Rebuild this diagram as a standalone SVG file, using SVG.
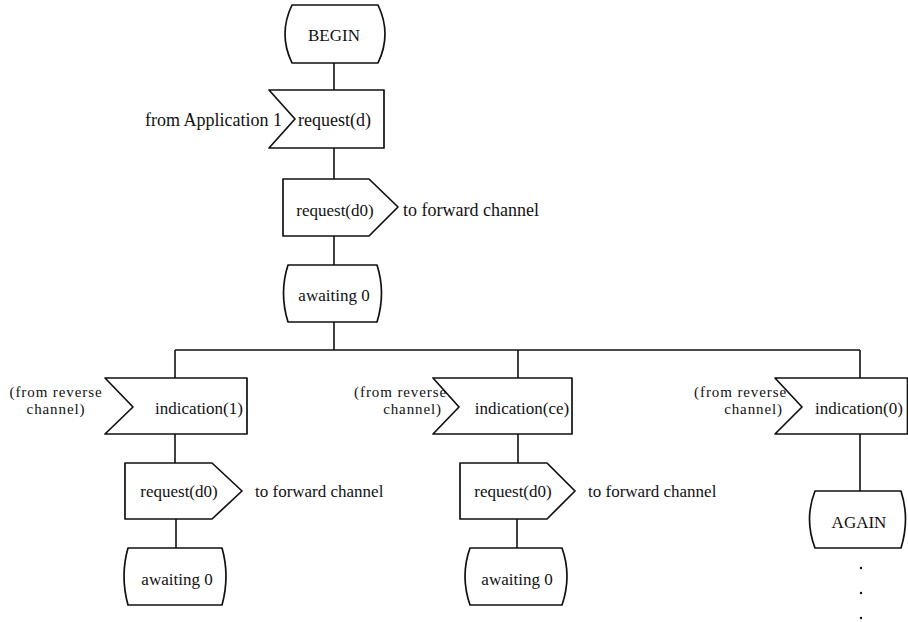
<svg xmlns="http://www.w3.org/2000/svg" width="908" height="622" viewBox="0 0 908 622">
<style>
.s{fill:#fff;stroke:#111;stroke-width:1.7;stroke-linejoin:round}
.c{fill:none;stroke:#111;stroke-width:1.6}
text{font-family:"Liberation Serif","Times New Roman",serif;font-size:17px;fill:#111}
.m{text-anchor:middle}
.e{text-anchor:end}
.big{font-size:18px}
.lb{font-size:15px;letter-spacing:0.9px}
</style>
<rect width="908" height="622" fill="#fff"/>
<g id="connectors">
<path class="c" d="M334 63V90M334 148V179M334 236V265M334 322V350M175 350H860M175 350V378M518 350V378M860 350V378M175 434V463M176 519V548M518 434V463M517 519V548M860 434V491"/>
</g>
<g id="begin">
<path class="s" d="M292 5H378Q392 34 378 63H292Q278 34 292 5Z"/>
<text class="m" x="334" y="41">BEGIN</text>
</g>
<g id="request_d">
<polygon class="s" points="269,90 384,90 384,148 269,148 295,119"/>
<text class="big" x="298" y="126">request(d)</text>
<text class="e big" x="282" y="126">from Application 1</text>
</g>
<g id="request_d0_top">
<polygon class="s" points="283,179 369,179 398,207 369,236 283,236"/>
<text class="m" x="335" y="216">request(d0)</text>
<text class="big" x="403" y="216">to forward channel</text>
</g>
<g id="awaiting_top">
<path class="s" d="M288 265H377Q386 293 377 322H288Q279 293 288 265Z"/>
<text class="m" x="334" y="301">awaiting 0</text>
</g>
<g id="indication_1">
<polygon class="s" points="105,378 247,378 247,434 105,434 133,407"/>
<text class="m" x="199" y="414">indication(1)</text>
<text class="m lb" x="56" y="397">(from reverse</text>
<text class="m lb" x="56" y="414">channel)</text>
</g>
<g id="request_d0_1">
<polygon class="s" points="125,463 212,463 242,491 212,519 125,519"/>
<text class="m" x="179" y="497">request(d0)</text>
<text x="255" y="497">to forward channel</text>
</g>
<g id="awaiting_1">
<path class="s" d="M128 548H222Q230 576 222 605H128Q120 576 128 548Z"/>
<text class="m" x="177" y="585">awaiting 0</text>
</g>
<g id="indication_ce">
<polygon class="s" points="433,378 572,378 572,434 433,434 459,407"/>
<text class="m" x="522" y="414">indication(ce)</text>
<text class="e lb" x="447" y="397">(from reverse</text>
<text class="e lb" x="442" y="414">channel)</text>
</g>
<g id="request_d0_2">
<polygon class="s" points="460,463 547,463 575,491 547,519 460,519"/>
<text class="m" x="513" y="497">request(d0)</text>
<text x="588" y="497">to forward channel</text>
</g>
<g id="awaiting_2">
<path class="s" d="M470 548H562Q572 576 562 605H470Q460 576 470 548Z"/>
<text class="m" x="517" y="585">awaiting 0</text>
</g>
<g id="indication_0">
<polygon class="s" points="775,378 907.5,378 907.5,434 775,434 802,407"/>
<text class="m" x="859" y="414">indication(0)</text>
<text class="e lb" x="787" y="397">(from reverse</text>
<text class="e lb" x="783" y="414">channel)</text>
</g>
<g id="again">
<path class="s" d="M815 491H901Q910 519 901 548H815Q804 519 815 491Z"/>
<text class="m" x="859" y="528">AGAIN</text>
</g>
<g id="dots" fill="#111">
<circle cx="861" cy="568" r="1.2"/>
<circle cx="861" cy="593" r="1.2"/>
<circle cx="861" cy="618" r="1.2"/>
</g>
</svg>
